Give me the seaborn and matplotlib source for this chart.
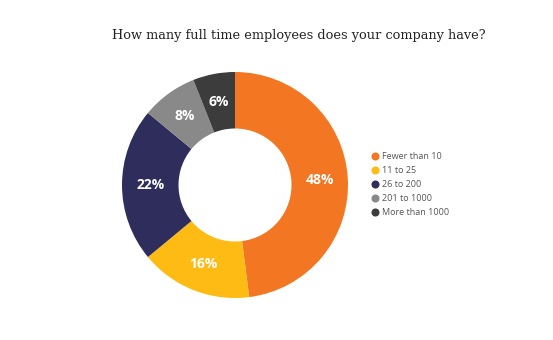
import matplotlib
matplotlib.use("Agg")
import matplotlib.pyplot as plt
import seaborn as sns
from matplotlib.lines import Line2D

categories = ["Fewer than 10", "11 to 25", "26 to 200", "201 to 1000", "More than 1000"]
shares = [48, 16, 22, 8, 6]
colors = ["#F37722", "#FDBB14", "#2F2D5B", "#898989", "#3C3C3C"]

sns.set_theme(style="white")
plt.rcParams["font.family"] = ["Open Sans", "DejaVu Sans"]

fig = plt.figure(figsize=(5.53, 3.40), dpi=100)
ax = fig.add_axes([(235 - 113) / 553, 1 - (185 + 113) / 340, 226 / 553, 226 / 340])

wedges, texts, autotexts = ax.pie(
    shares, colors=colors, startangle=90, counterclock=False,
    wedgeprops=dict(width=0.5, linewidth=0),
    autopct=lambda p: f"{p:.0f}%", pctdistance=0.75,
    textprops=dict(color="white", fontsize=10, fontweight="bold"),
)
ax.set_xlim(-1, 1)
ax.set_ylim(-1, 1)
ax.set_aspect("equal")

fig.text(0.54, 1 - 35 / 340, "How many full time employees does your company have?",
         ha="center", va="center", fontsize=9.3, color="#222222",
         family=["DejaVu Serif"])

handles = [Line2D([0], [0], marker="o", linestyle="", markersize=4.8,
                  markerfacecolor=c, markeredgecolor=c) for c in colors]
fig.legend(handles, categories, loc="upper left",
           bbox_to_anchor=(362 / 553, 1 - 144 / 340), frameon=False,
           fontsize=6.5, labelcolor="#555555", handletextpad=0.3,
           labelspacing=0.55, handlelength=1.0)

fig.savefig("out.png", dpi=100)
